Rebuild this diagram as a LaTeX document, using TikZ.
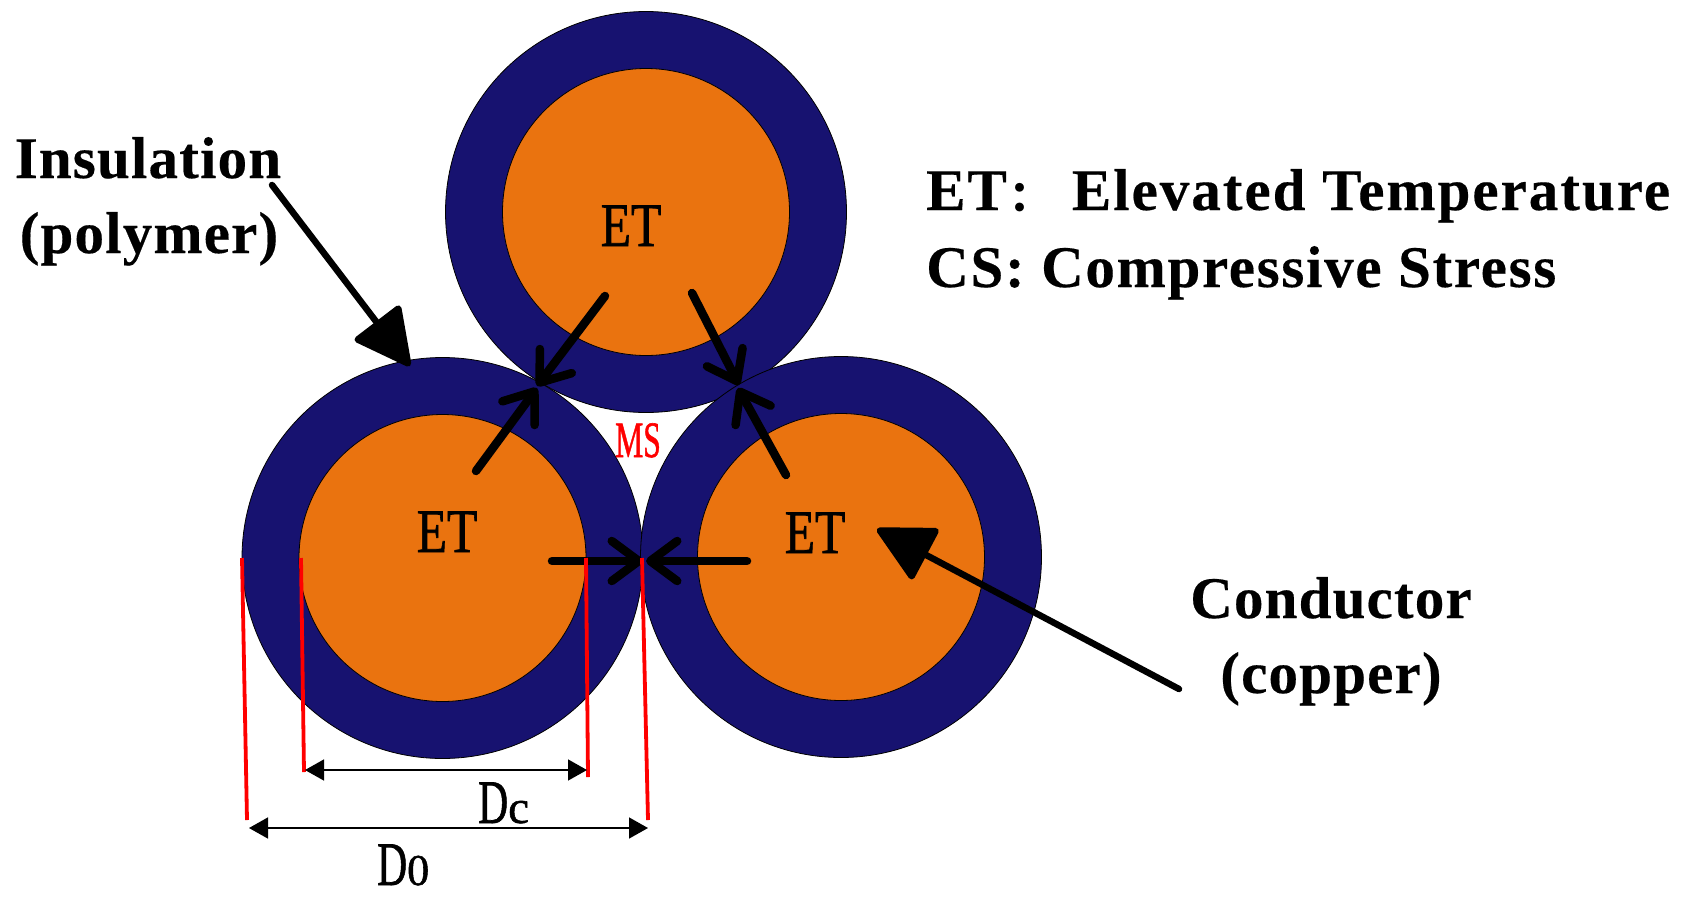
\documentclass[tikz,border=0pt]{standalone}
\usepackage{fontspec}
\setmainfont{Liberation Serif}
\newfontfamily\cjk{Noto Sans CJK SC}
\newfontfamily\bsA[LetterSpace=2.0,BoldFeatures={FakeBold=0.3}]{Liberation Serif}
\newfontfamily\bsB[LetterSpace=2.9,BoldFeatures={FakeBold=0.3}]{Liberation Serif}
\newfontfamily\bsC[LetterSpace=3.4,BoldFeatures={FakeBold=0.3}]{Liberation Serif}
\newfontfamily\hv[FakeBold=1.2]{Liberation Serif}
\usetikzlibrary{arrows.meta}
\definecolor{navyins}{HTML}{171270}
\definecolor{orangecu}{HTML}{EA730F}
\newcommand{\fs}[1]{\fontsize{#1}{#1}\selectfont}
\tikzset{
  x=1pt,y=-1pt,
  outerc/.style={circle,draw=black,line width=0.8pt,fill=navyins,minimum size=401pt,inner sep=0pt},
  innerc/.style={circle,draw=black,line width=0.8pt,fill=orangecu,minimum size=287pt,inner sep=0pt},
  stressarrow/.style={line width=8.5pt,line cap=round,line join=round,-{Straight Barb[length=27pt,width=40pt,round]}},
  bigarrow/.style={line width=6.5pt,line cap=round,-{Triangle[length=60pt,width=60pt,round]}},
  redline/.style={red,line width=3.8pt},
  dimarrow/.style={line width=1.5pt,{Triangle[length=19pt,width=21pt]}-{Triangle[length=19pt,width=21pt]}},
  boldtext/.style={anchor=base,inner sep=0pt,font=\bsA\bfseries\fs{59}},
  boldleft/.style={anchor=base west,inner sep=0pt,font=\bsB\bfseries\fs{59}},
  etlabel/.style={anchor=base,inner sep=0pt,font=\hv\fs{62}},
  dimlabel/.style={anchor=base west,inner sep=0pt,font=\hv},
}
\begin{document}
\begin{tikzpicture}
\useasboundingbox (0,0) rectangle (1682,903);
% cables
\node[outerc] (ot) at (646,212) {};
\node[outerc] (ol) at (442.5,558) {};
\node[outerc] (or) at (841,557) {};
\node[innerc] (it) at (646,212) {};
\node[innerc] (il) at (442.5,558) {};
\node[innerc] (ir) at (841,557) {};
% stress arrows
\coordinate (a1s) at (605,296); \coordinate (a1e) at (537,386);
\coordinate (a2s) at (692,293); \coordinate (a2e) at (739,385);
\coordinate (a3s) at (476,471); \coordinate (a3e) at (537,388);
\coordinate (a4s) at (786,475); \coordinate (a4e) at (738,388);
\coordinate (a5s) at (552,561); \coordinate (a5e) at (643,561);
\coordinate (a6s) at (747,561); \coordinate (a6e) at (646,561);
\draw[stressarrow] (a1s) -- (a1e);
\draw[stressarrow] (a2s) -- (a2e);
\draw[stressarrow] (a3s) -- (a3e);
\draw[stressarrow] (a4s) -- (a4e);
\draw[stressarrow] (a5s) -- (a5e);
\draw[stressarrow] (a6s) -- (a6e);
% red extension lines
\coordinate (r1a) at (242,558); \coordinate (r1b) at (247,820);
\coordinate (r2a) at (301,558); \coordinate (r2b) at (304,772);
\coordinate (r3a) at (586,558); \coordinate (r3b) at (588,777);
\coordinate (r4a) at (642,558); \coordinate (r4b) at (648,820);
\draw[redline] (r1a) -- (r1b);
\draw[redline] (r2a) -- (r2b);
\draw[redline] (r3a) -- (r3b);
\draw[redline] (r4a) -- (r4b);
% dimension arrows
\coordinate (dc1) at (305,770); \coordinate (dc2) at (587,770);
\coordinate (do1) at (249,828); \coordinate (do2) at (648,828);
\draw[dimarrow] (dc1) -- (dc2);
\draw[dimarrow] (do1) -- (do2);
% pointer arrows
\coordinate (p1s) at (272,185); \coordinate (p1e) at (410,366);
\coordinate (p2s) at (1179,689); \coordinate (p2e) at (877,529);
\draw[bigarrow] (p1s) -- (p1e);
\draw[bigarrow] (p2s) -- (p2e);
% labels
\node[etlabel] (ett) at (631,246) {\scalebox{0.8}[1]{ET}};
\node[etlabel] (etl) at (447,552) {\scalebox{0.8}[1]{ET}};
\node[etlabel] (etr) at (815,553) {\scalebox{0.8}[1]{ET}};
\node[anchor=base,inner sep=0pt,text=red,font=\hv\fs{51}] (ms) at (638,457) {\scalebox{0.62}[1]{MS}};
\node[boldtext] (ins1) at (148,178) {Insulation};
\node[boldtext] (ins2) at (149,253) {(polymer)};
\node[boldtext] (con1) at (1331,618) {Conductor};
\node[boldtext] (con2) at (1331,693) {(copper)};
\node[boldleft,font=\bsC\bfseries\fs{59}] (leg1) at (926,210) {ET\hspace{3pt}{\cjk\fs{42}\raisebox{-1pt}{：}}\hspace{20pt}Elevated Temperature};
\node[boldleft] (leg2) at (926,287) {CS: Compressive Stress};
\node[dimlabel] (dc) at (478,823) {\fs{62}\scalebox{0.67}[1]{D}\fs{47}c};
\node[dimlabel] (d0) at (377,885) {\fs{62}\scalebox{0.67}[1]{D}\fs{44}0};
\end{tikzpicture}
\end{document}
